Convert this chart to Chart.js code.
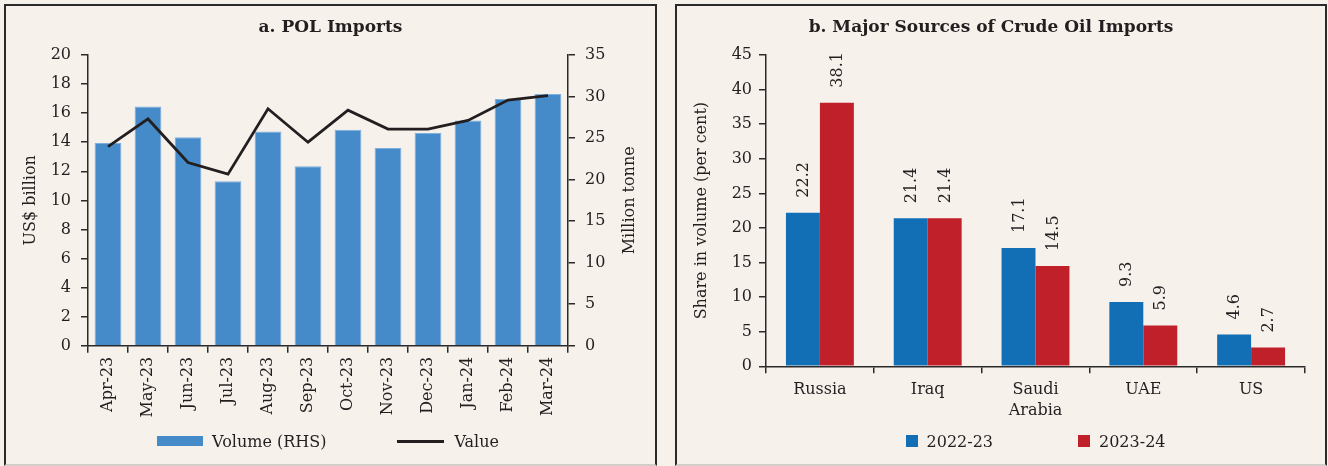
<!DOCTYPE html>
<html lang="en">
<head>
  <meta charset="UTF-8">
  <title>POL Imports and Crude Oil Sources</title>
  <script src="https://cdn.jsdelivr.net/npm/chart.js"></script>
  <style>
    body {
      margin: 0;
      width: 1328px;
      height: 466px;
      overflow: hidden;
      background-color: #f7f1ec;
      font-family: 'DejaVu Serif', serif;
      color: #231f20;
    }
    .panel {
      position: absolute;
      top: 4px;
      height: 462px;
      box-sizing: border-box;
      border: 2px solid #2a2a2a;
      border-bottom: 2px solid #d3cec9;
    }
    #panel-a { left: 4px; width: 653px; }
    #panel-b { left: 675px; width: 652px; }
    canvas { position: absolute; left: 0; top: 0; }
    .legend {
      position: absolute;
      height: 20px;
      display: flex;
      align-items: center;
      justify-content: center;
      font-size: 16px;
      white-space: nowrap;
    }
    .legend .sw { display: inline-block; margin-right: 9px; }
    .legend .gap { display: inline-block; }
  </style>
</head>
<body>

  <div class="panel" id="panel-a">
    <canvas id="grafico-pol" width="649" height="458"></canvas>
    <div class="legend" id="leyenda-pol" style="left:82px; width:480px; top:425px;"></div>
  </div>

  <div class="panel" id="panel-b">
    <canvas id="grafico-crudo" width="648" height="458"></canvas>
    <div class="legend" id="leyenda-crudo" style="left:89px; width:539px; top:425px;"></div>
  </div>

  <script>
    // a. POL imports
    var meses = ['Apr-23', 'May-23', 'Jun-23', 'Jul-23', 'Aug-23', 'Sep-23',
                 'Oct-23', 'Nov-23', 'Dec-23', 'Jan-24', 'Feb-24', 'Mar-24'];
    var volumen = [24.4, 28.8, 25.1, 19.8, 25.8, 21.6, 26.0, 23.8, 25.6, 27.1, 29.7, 30.3]; // million tonne (RHS)
    var valor = [13.7, 15.6, 12.6, 11.8, 16.3, 14.0, 16.2, 14.9, 14.9, 15.5, 16.9, 17.2];    // US$ billion

    // b. major sources of crude oil imports
    var paises = ['Russia', 'Iraq', ['Saudi', 'Arabia'], 'UAE', 'US'];
    var cuota2223 = [22.2, 21.4, 17.1, 9.3, 4.6];
    var cuota2324 = [38.1, 21.4, 14.5, 5.9, 2.7];

    var fuente = "'DejaVu Serif', serif";
    var tinta = '#231f20';
    var ejeColor = '#2a2a2a';

    Chart.defaults.font.family = fuente;
    Chart.defaults.font.size = 16;
    Chart.defaults.color = tinta;
    Chart.defaults.animation = false;

    function ejeX(alto, opciones) {
      return Object.assign({
        grid: { display: true, drawOnChartArea: false, tickLength: 7, color: ejeColor, lineWidth: 1.5 },
        border: { display: true, color: ejeColor, width: 1.5 },
        afterFit: function (s) { s.height = alto; }
      }, opciones);
    }

    function ejeY(ancho, opciones) {
      return Object.assign({
        grid: { display: true, drawOnChartArea: false, tickLength: 7, color: ejeColor, lineWidth: 1.5 },
        border: { display: true, color: ejeColor, width: 1.5 },
        afterFit: function (s) { s.width = ancho; }
      }, opciones);
    }

    var tituloOpts = function (texto) {
      return {
        display: true,
        text: texto,
        color: tinta,
        font: { size: 17, weight: 'bold', lineHeight: 1.2 },
        padding: { top: 11.8, bottom: 16.8 }
      };
    };

    // secondary axis title, rotated the same way as the left one
    var tituloDerecho = {
      id: 'tituloDerecho',
      afterDraw: function (chart) {
        var s = chart.scales.y1;
        var ctx = chart.ctx;
        ctx.save();
        ctx.translate(s.right - 25, (s.top + s.bottom) / 2);
        ctx.rotate(-Math.PI / 2);
        ctx.font = '16px ' + fuente;
        ctx.fillStyle = tinta;
        ctx.textAlign = 'center';
        ctx.textBaseline = 'middle';
        ctx.fillText('Million tonne', 0, 0);
        ctx.restore();
      }
    };

    var etiquetasBarras = {
      id: 'etiquetasBarras',
      afterDatasetsDraw: function (chart) {
        var ctx = chart.ctx;
        ctx.save();
        ctx.font = '16px ' + fuente;
        ctx.fillStyle = tinta;
        ctx.textAlign = 'left';
        ctx.textBaseline = 'middle';
        chart.data.datasets.forEach(function (ds, i) {
          chart.getDatasetMeta(i).data.forEach(function (bar, j) {
            ctx.save();
            ctx.translate(bar.x, bar.y - 15);
            ctx.rotate(-Math.PI / 2);
            ctx.fillText(ds.data[j].toFixed(1), 0, 1);
            ctx.restore();
          });
        });
        ctx.restore();
      }
    };

    var graficoPol = new Chart(document.getElementById('grafico-pol'), {
      type: 'bar',
      data: {
        labels: meses,
        datasets: [{
          type: 'line',
          label: 'Value',
          data: valor,
          yAxisID: 'y',
          borderColor: tinta,
          backgroundColor: tinta,
          borderWidth: 2.8,
          pointRadius: 0,
          tension: 0,
          order: 0
        }, {
          type: 'bar',
          label: 'Volume (RHS)',
          data: volumen,
          yAxisID: 'y1',
          backgroundColor: '#458bca',
          borderColor: '#7db0de',
          borderWidth: { top: 1, left: 1, right: 1, bottom: 0 },
          categoryPercentage: 1,
          barPercentage: 0.67,
          order: 1
        }]
      },
      options: {
        responsive: false,
        layout: { padding: { left: 0, right: 0, top: 0, bottom: 38.3 } },
        plugins: {
          legend: { display: false },
          tooltip: { enabled: false },
          title: tituloOpts('a. POL Imports')
        },
        scales: {
          x: ejeX(80, {
            ticks: { autoSkip: false, minRotation: 90, maxRotation: 90, padding: 4, color: tinta }
          }),
          y: ejeY(82, {
            position: 'left',
            min: 0, max: 20,
            ticks: { stepSize: 2, padding: 10, color: tinta },
            title: { display: true, text: 'US$ billion', color: tinta, font: { size: 16, lineHeight: 1.2 }, padding: { top: 15.4, bottom: 0 } }
          }),
          y1: ejeY(87, {
            position: 'right',
            min: 0, max: 35,
            ticks: { stepSize: 5, padding: 10, color: tinta }
          })
        }
      },
      plugins: [tituloDerecho]
    });

    var graficoCrudo = new Chart(document.getElementById('grafico-crudo'), {
      type: 'bar',
      data: {
        labels: paises,
        datasets: [{
          label: '2022-23',
          data: cuota2223,
          backgroundColor: '#126fb6',
          categoryPercentage: 0.63,
          barPercentage: 1
        }, {
          label: '2023-24',
          data: cuota2324,
          backgroundColor: '#c0202a',
          categoryPercentage: 0.63,
          barPercentage: 1
        }]
      },
      options: {
        responsive: false,
        layout: { padding: { left: 0, right: 20, top: 0, bottom: 37.7 } },
        plugins: {
          legend: { display: false },
          tooltip: { enabled: false },
          title: tituloOpts('b. Major Sources of Crude Oil Imports')
        },
        scales: {
          x: ejeX(60, {
            ticks: { autoSkip: false, maxRotation: 0, padding: 6, color: tinta, font: { size: 16, lineHeight: 1.3 } }
          }),
          y: ejeY(89, {
            min: 0, max: 45,
            ticks: { stepSize: 5, padding: 7, color: tinta },
            title: { display: true, text: 'Share in volume (per cent)', color: tinta, font: { size: 16, lineHeight: 1.2 }, padding: { top: 15.4, bottom: 0 } }
          })
        }
      },
      plugins: [etiquetasBarras]
    });

    // legends built from the datasets
    function leyendaPol() {
      var cont = document.getElementById('leyenda-pol');
      var barra = graficoPol.data.datasets[1];
      var linea = graficoPol.data.datasets[0];
      cont.innerHTML =
        '<span class="sw" style="width:46px;height:10px;background:' + barra.backgroundColor + '"></span>' +
        '<span>' + barra.label + '</span>' +
        '<span class="gap" style="width:71px"></span>' +
        '<span class="sw" style="width:47px;height:3px;margin-right:10px;background:' + linea.borderColor + '"></span>' +
        '<span>' + linea.label + '</span>';
    }

    function leyendaCrudo() {
      var cont = document.getElementById('leyenda-crudo');
      var html = '';
      graficoCrudo.data.datasets.forEach(function (ds, i) {
        if (i > 0) html += '<span class="gap" style="width:85px"></span>';
        html += '<span class="sw" style="width:12px;height:12px;background:' + ds.backgroundColor + '"></span>' +
                '<span>' + ds.label + '</span>';
      });
      cont.innerHTML = html;
    }

    leyendaPol();
    leyendaCrudo();
  </script>

</body>
</html>
